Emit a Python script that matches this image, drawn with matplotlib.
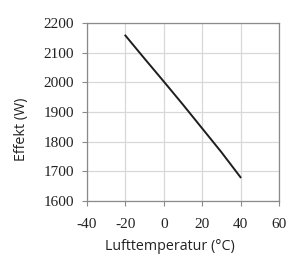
import matplotlib
matplotlib.use("Agg")
import matplotlib.pyplot as plt

plt.rcParams["axes.unicode_minus"] = False

# air temperature (C) vs power (W)
temp = [-20, -10, 0, 10, 20, 30, 40]
effekt = [2158, 2080, 2003, 1925, 1845, 1765, 1680]

fig = plt.figure(figsize=(2.89, 2.59), dpi=100)
ax = fig.add_axes([0.301, 0.224, 0.664, 0.687])

ax.plot(temp, effekt, color="#1e1e1e", linewidth=1.4)

ax.set_xlim(-40, 60)
ax.set_ylim(1600, 2200)
ax.set_xticks(range(-40, 61, 20))
ax.set_yticks(range(1600, 2201, 100))
ax.grid(True, color="#d8d8d8", linewidth=0.9)
ax.set_axisbelow(True)
for s in ax.spines.values():
    s.set_color("#8a8a8a")
    s.set_linewidth(0.9)
ax.tick_params(direction="out", length=3.5, width=0.8, color="#8a8a8a")
ax.tick_params(axis="x", pad=9)
ax.tick_params(axis="y", pad=6)
for lab in ax.get_xticklabels() + ax.get_yticklabels():
    lab.set_family("Liberation Serif")
    lab.set_fontsize(11)
    lab.set_color("#222222")

ax.set_xlabel("Lufttemperatur (°C)", family="Open Sans", fontsize=10.3, color="#222222")
ax.set_ylabel("Effekt (W)", family="Open Sans", fontsize=10.3, color="#222222")
ax.xaxis.set_label_coords(0.43, -0.215)
ax.yaxis.set_label_coords(-0.30, 0.40)

fig.savefig("out.png", dpi=100)
